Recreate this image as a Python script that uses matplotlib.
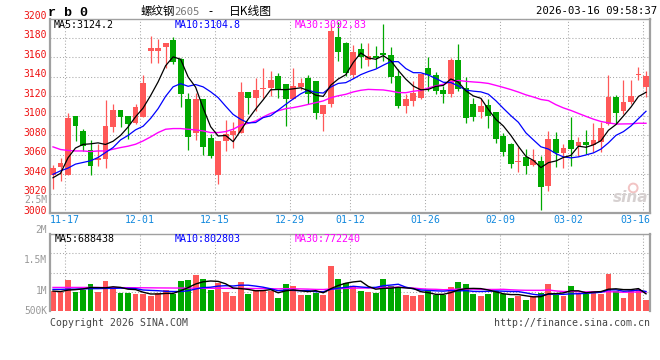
import matplotlib
matplotlib.use("Agg")
import matplotlib.pyplot as plt
import matplotlib.transforms as mtrans
import numpy as np
import pandas as pd

# ---------------- data ----------------
dates = ["11-13", "11-14", "11-17", "11-18", "11-19", "11-20", "11-21", "11-24", "11-25", "11-26",
         "11-27", "11-28", "12-01", "12-02", "12-03", "12-04", "12-05", "12-08", "12-09", "12-10",
         "12-11", "12-12", "12-15", "12-16", "12-17", "12-18", "12-19", "12-22", "12-23", "12-24",
         "12-25", "12-26", "12-29", "12-30", "12-31", "01-05", "01-06", "01-07", "01-08", "01-09",
         "01-12", "01-13", "01-14", "01-15", "01-16", "01-19", "01-20", "01-21", "01-22", "01-23",
         "01-26", "01-27", "01-28", "01-29", "01-30", "02-02", "02-03", "02-04", "02-05", "02-06",
         "02-09", "02-10", "02-11", "02-12", "02-13", "02-24", "02-25", "02-26", "02-27", "03-02",
         "03-03", "03-04", "03-05", "03-06", "03-09", "03-10", "03-11", "03-12", "03-13", "03-16"]

opens = [3039, 3048, 3039.6, 3099.6, 3084, 3064.8, 3055, 3056, 3088.7, 3105.7,
         3099.6, 3092.8, 3099.2, 3166.4, 3166.4, 3170.5, 3178.3, 3158.6, 3117, 3082,
         3117, 3077, 3039.2, 3074.3, 3080.5, 3082.5, 3124.8, 3118, 3127.5, 3129,
         3141, 3132.3, 3117.3, 3129.6, 3138.4, 3135.4, 3101.6, 3112.5, 3181, 3175,
         3142.5, 3169, 3157.5, 3161, 3165, 3163, 3140.5, 3110.1, 3115.3, 3118.7,
         3148.7, 3142.5, 3126.2, 3122, 3156.9, 3128.2, 3111.9, 3103.7, 3111.2, 3104.3,
         3079, 3071, 3052.2, 3057.3, 3049.8, 3053.9, 3028.3, 3076, 3062.4, 3075,
         3069.2, 3073.7, 3070.2, 3073.7, 3092, 3119.4, 3105, 3114.6, 3141.5, 3129.6]
highs = [3050, 3056.6, 3103.3, 3100, 3087, 3075, 3071.6, 3116, 3112.5, 3106,
         3100, 3112.5, 3142.5, 3182, 3179.4, 3175, 3181, 3159, 3123.8, 3123.8,
         3117, 3081.8, 3074.3, 3095.5, 3094, 3134.4, 3125, 3139, 3148.7, 3146,
         3144, 3132.5, 3149.4, 3139, 3142.5, 3135.4, 3111.2, 3194, 3196, 3176,
         3173.2, 3175, 3175.3, 3172.2, 3194.7, 3170.8, 3147.7, 3122.8, 3135.7, 3143.5,
         3160.3, 3145.3, 3130.6, 3159.6, 3173.9, 3139.8, 3118.7, 3118.7, 3117, 3104.3,
         3082.9, 3072.6, 3068.2, 3065.8, 3065.8, 3059, 3084.6, 3083.9, 3071.6, 3098.9,
         3078.4, 3085.2, 3093.1, 3094, 3141.9, 3121.4, 3136.4, 3136.4, 3150, 3146]
lows = [3025, 3033.4, 3039, 3074.3, 3064, 3039.6, 3048.4, 3047, 3083, 3088.7,
        3076, 3091.4, 3099, 3153.8, 3153.8, 3149.4, 3152.8, 3109, 3064.8, 3075,
        3059.7, 3056.6, 3030, 3064, 3067.5, 3082, 3101.6, 3105, 3118.7, 3120.4,
        3118, 3089.7, 3117, 3126.2, 3111.9, 3097.2, 3084.6, 3109, 3156, 3141,
        3139.1, 3149.4, 3151, 3149.4, 3156.2, 3133.3, 3108.4, 3103, 3110.1, 3117,
        3125.5, 3122.8, 3113.6, 3119.4, 3125.5, 3093.1, 3094.8, 3098.2, 3088, 3072.6,
        3059, 3046.4, 3041.9, 3040.2, 3048.8, 3003.4, 3023.2, 3047.7, 3046.4, 3048.8,
        3059, 3060.7, 3063.4, 3063.4, 3090.7, 3091.4, 3101.6, 3111.9, 3136.4, 3119.4]
closes = [3046, 3052, 3097.5, 3089.3, 3069, 3048.8, 3057, 3089.3, 3105.7, 3099,
          3092, 3109.5, 3134, 3169.5, 3169.5, 3175, 3155, 3122, 3078.4, 3117,
          3068.2, 3059, 3074.3, 3081.2, 3085, 3124.8, 3118, 3126.2, 3128.6, 3136.4,
          3126.2, 3117.3, 3130.3, 3134, 3122, 3102.6, 3111.2, 3187.6, 3166, 3144,
          3165.4, 3160.3, 3161.6, 3159.6, 3162.3, 3139.8, 3110.1, 3117, 3123.8, 3143.2,
          3141.9, 3125.5, 3122, 3156.9, 3127.2, 3097.5, 3098.9, 3109.8, 3100, 3076,
          3063.4, 3050.5, 3053.9, 3048.8, 3054.9, 3026.6, 3076, 3062.4, 3066.8, 3065.8,
          3073.7, 3070.2, 3075, 3088, 3119.4, 3103, 3114.6, 3120.4, 3142.5, 3140.8]
volumes = [823000, 796000, 1276000, 782000, 864000, 1111000, 782000, 1235000, 988000, 741000,
           741000, 700000, 700000, 617000, 741000, 864000, 700000, 1235000, 1276000, 1481000,
           1317000, 864000, 1152000, 782000, 617000, 1193000, 700000, 864000, 823000, 823000,
           535000, 1111000, 1029000, 658000, 658000, 741000, 658000, 1866000, 1317000, 1139000,
           1001000, 823000, 782000, 741000, 1317000, 1029000, 1001000, 658000, 631000, 658000,
           823000, 658000, 658000, 988000, 1193000, 1111000, 700000, 617000, 700000, 823000,
           700000, 535000, 617000, 453000, 604000, 741000, 1111000, 658000, 617000, 1029000,
           741000, 700000, 823000, 700000, 1523000, 823000, 535000, 823000, 905000, 453000]

ma5_head = [3036.5, 3041, 3057, 3067]
ma10_head = [3040, 3043.6, 3046.4, 3050.5, 3052.2, 3053.9, 3057.3, 3062.4, 3067.5]
ma30_head = [3068.2, 3065.5, 3064.5, 3064, 3064, 3063.4, 3064, 3064, 3065.8, 3067.5,
             3068.9, 3070.9, 3074.3, 3078.4, 3082.9, 3086.3, 3087, 3087, 3086.3, 3085.6,
             3084.6, 3082.9, 3082.9, 3083.9, 3086.3, 3090.4, 3092.4, 3094.8, 3098.9]
vma5_head = [820000, 800000, 860000, 880000]
vma10_head = [890000, 890000, 900000, 900000, 910000, 920000, 920000, 930000, 930000]
vma30_head = [970000, 970000, 970000, 970000, 970000, 970000, 968000, 966000, 964000, 962000,
              960000, 958000, 956000, 954000, 950000, 948000, 946000, 944000, 942000, 940000,
              938000, 936000, 934000, 932000, 930000, 928000, 926000, 924000, 922000]

# legend readouts shown on the chart
price_ma_names = ["MA5", "MA10", "MA30"]
price_ma_readout = ["3124.2", "3104.8", "3092.83"]
vol_ma_readout = ["688438", "802803", "772240"]

date_ticks = ["11-17", "12-01", "12-15", "12-29", "01-12", "01-26", "02-09", "03-02", "03-16"]
price_ticks = [3000, 3020, 3040, 3060, 3080, 3100, 3120, 3140, 3160, 3180, 3200]
vol_tick_values = [2500000, 2000000, 1500000, 1000000, 500000]
vol_tick_labels = ["2.5M", "2M", "1.5M", "1M", "500K"]

title_code = "r b 0"
title_name = "螺纹钢"
title_contract = "2605"
title_dash = "-"
title_kind = "日K线图"
timestamp = "2026-03-16 09:58:37"

# ---------------- style ----------------
RED = "#ff5858"
GREEN = "#00a800"
GRID = "#a8a8a8"
FRAME = "#a0a0a0"
MA_COLORS = ["black", "#0000ff", "#ff00ff"]
MONO = "DejaVu Sans Mono"
CJK = ["Noto Sans CJK SC", "DejaVu Sans"]
W, H = 660, 360


def rolling(values, n, head):
    s = pd.Series(values, dtype=float).rolling(n).mean().to_numpy()
    s[:len(head)] = head
    return s


o = np.array(opens); c = np.array(closes)
hi = np.array(highs); lo = np.array(lows)
v = np.array(volumes, dtype=float)
x = np.arange(len(dates))
up = c >= o
cols = np.where(up, RED, GREEN)

ma5 = rolling(closes, 5, ma5_head)
ma10 = rolling(closes, 10, ma10_head)
ma30 = rolling(closes, 30, ma30_head)
vma5 = rolling(volumes, 5, vma5_head)
vma10 = rolling(volumes, 10, vma10_head)
vma30 = rolling(volumes, 30, vma30_head)

fig = plt.figure(figsize=(6.6, 3.6), dpi=100)
fig.patch.set_facecolor("white")


def rect(l, t, r, b):
    return [l / W, 1 - b / H, (r - l) / W, (b - t) / H]


ax = fig.add_axes(rect(50, 18.5, 650, 213.3))
axv = fig.add_axes(rect(50, 234.3, 650, 311))

slot = 600 / 79.94
xlim = (-3 / slot, len(dates) - 1 + 4 / slot)
tick_idx = [dates.index(d) for d in date_ticks]
grid_x = [i - 0.4 for i in tick_idx]

for a in (ax, axv):
    a.set_xlim(*xlim)
    a.set_xticks([]); a.set_yticks([])
    for s in a.spines.values():
        s.set_color(FRAME)
        s.set_linewidth(1.0)
    for gx in grid_x:
        a.axvline(gx, color=GRID, lw=0.75, ls=(0, (1, 2)), zorder=0)

ax.spines["left"].set_linewidth(1.6)
ax.spines["bottom"].set_linewidth(1.6)
ax.spines["right"].set_linewidth(1.6)
axv.spines["left"].set_linewidth(1.6)
axv.spines["right"].set_linewidth(1.6)
axv.spines["bottom"].set_visible(False)

# ---------------- price panel ----------------
ax.set_ylim(price_ticks[0], price_ticks[-1])
for p in price_ticks[1:-1]:
    ax.axhline(p, color=GRID, lw=0.75, ls=(0, (1, 2)), zorder=0)

bw = 0.78
ax.vlines(x, lo, hi, colors=cols, lw=0.9, zorder=2)
body_bottom = np.minimum(o, c)
body_h = np.maximum(np.abs(c - o), 1.1)
ax.bar(x, body_h, bottom=body_bottom, width=bw, color=cols, linewidth=0, zorder=3)

ax.plot(x, ma30, color=MA_COLORS[2], lw=1.0, zorder=4)
ax.plot(x, ma10, color=MA_COLORS[1], lw=0.9, zorder=4)
ax.plot(x, ma5, color=MA_COLORS[0], lw=0.9, zorder=5)

# price tick labels
ytr = mtrans.offset_copy(mtrans.blended_transform_factory(ax.transAxes, ax.transData),
                         fig=fig, x=-3, y=2.6, units="dots")
for p in price_ticks:
    ax.text(0, p, str(p), transform=ytr, ha="right", va="center",
            color="#ee1111", fontsize=7.0, family=MONO, clip_on=False)

# date labels
dtr = mtrans.offset_copy(mtrans.blended_transform_factory(ax.transData, ax.transAxes),
                         fig=fig, x=0, y=-7, units="dots")
for gx, lab in zip(grid_x, date_ticks):
    if gx > xlim[1] - 2:
        ax.text(1.0, 0, lab, transform=mtrans.offset_copy(ax.transAxes, fig=fig, x=0, y=-7, units="dots"),
                ha="right", va="center", color="#1188dd", fontsize=7.1, family=MONO)
    else:
        ax.text(gx, 0, lab, transform=dtr, ha="center", va="center",
                color="#1188dd", fontsize=7.1, family=MONO)

# price legend
legend_x = [4 / 600, 125 / 600, 245 / 600]
ltr = mtrans.offset_copy(ax.transAxes, fig=fig, x=0, y=-6, units="dots")
for lx, name, val, colr in zip(legend_x, price_ma_names, price_ma_readout, MA_COLORS):
    ax.text(lx, 1, f"{name}:{val}", transform=ltr, ha="left", va="center",
            color=colr, fontsize=7.2, family=MONO, zorder=6)

# sina watermark
ax.text(0.998, 0.045, "sina", transform=ax.transAxes, ha="right", va="bottom",
        color="#d6d0d0", fontsize=11, fontweight="bold", style="italic", family="DejaVu Sans")
ax.scatter([0.972], [0.13], transform=ax.transAxes, s=40, facecolors="none",
           edgecolors="#f2c4c4", linewidths=1.4, zorder=1)

# ---------------- volume panel ----------------
vtop = 76.7 / 24.3 * 1e6
axv.set_ylim(0, vtop)
for f in (0.25, 0.5, 0.75):
    axv.axhline(vtop * f, color=GRID, lw=0.75, ls=(0, (1, 2)), zorder=0)
axv.bar(x, v, width=bw, color=cols, linewidth=0, zorder=2)
axv.plot(x, vma30, color=MA_COLORS[2], lw=1.0, zorder=3)
axv.plot(x, vma10, color=MA_COLORS[1], lw=1.0, zorder=3)
axv.plot(x, vma5, color=MA_COLORS[0], lw=1.0, zorder=4)

vlegend_x = [5 / 600, 125 / 600, 245 / 600]
vltr = mtrans.offset_copy(axv.transAxes, fig=fig, x=0, y=-5, units="dots")
for lx, name, val, colr in zip(vlegend_x, price_ma_names, vol_ma_readout, MA_COLORS):
    axv.text(lx, 1, f"{name}:{val}", transform=vltr, ha="left", va="center",
             color=colr, fontsize=7.2, family=MONO)

# volume axis labels (sina's label scale: 1M at y=291px, 61.4px per 1M, clamped at the bottom)
for val, lab in zip(vol_tick_values, vol_tick_labels):
    ypx = min(291 + (1e6 - val) * 61.4e-6, 311)
    if lab == "2.5M":
        ypx += 1.0
    fig.text(47 / W, 1 - ypx / H, lab, ha="right", va="center", color="#999999",
             fontsize=6.9, family=MONO)

# ---------------- header ----------------
fig.text(48 / W, 1 - 12.5 / H, title_code, ha="left", va="center", fontsize=9.6,
         fontweight="bold", family="Liberation Mono", color="black")
fig.text(141 / W, 1 - 11.5 / H, title_name, ha="left", va="center", fontsize=8.3,
         family=CJK, color="black")
fig.text(174 / W, 1 - 12 / H, title_contract, ha="left", va="center", fontsize=7.6,
         family=MONO, color="#777777")
fig.text(210 / W, 1 - 11.5 / H, title_dash, ha="center", va="center", fontsize=8.3,
         family=CJK, color="black")
fig.text(229 / W, 1 - 11.5 / H, title_kind, ha="left", va="center", fontsize=8.5,
         family=CJK, color="black")
fig.text(657 / W, 1 - 11.5 / H, timestamp, ha="right", va="center", fontsize=7.7,
         family=MONO, color="black")

# ---------------- footer ----------------
fig.text(50 / W, 1 - 323.5 / H, "Copyright 2026 SINA.COM", ha="left", va="center",
         fontsize=7.1, family=MONO, color="#444444")
fig.text(650 / W, 1 - 323.5 / H, "http://finance.sina.com.cn", ha="right", va="center",
         fontsize=7.1, family=MONO, color="#444444")

fig.savefig("out.png", dpi=100, facecolor="white")
